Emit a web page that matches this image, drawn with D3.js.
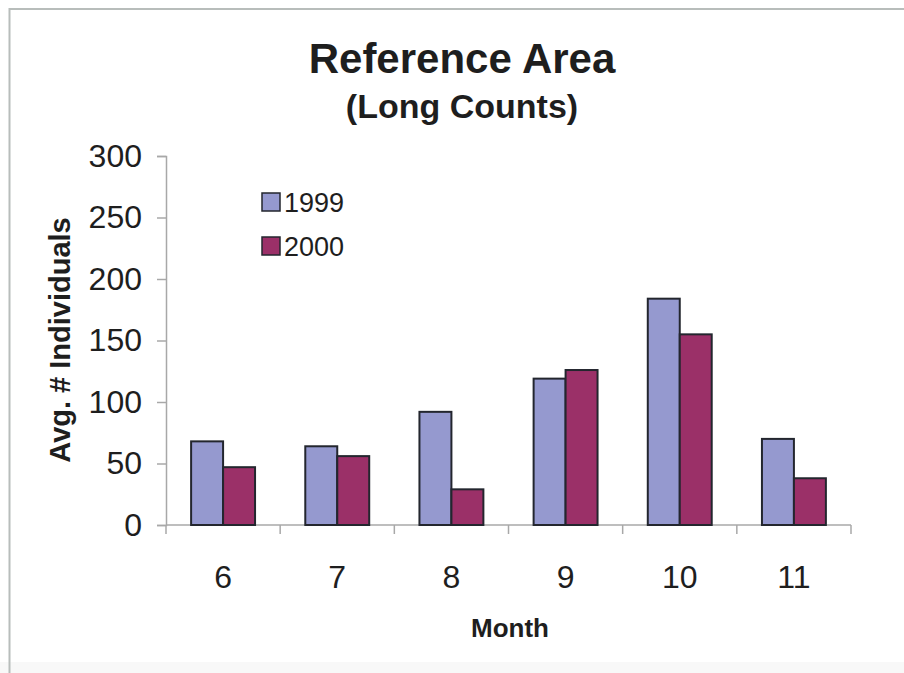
<!DOCTYPE html>
<html>
<head>
<meta charset="utf-8">
<script src="https://cdn.jsdelivr.net/npm/d3@7"></script>
<style>
  html, body { margin: 0; padding: 0; background: #ffffff; }
  svg { display: block; }
  text { font-family: "Liberation Sans", Arial, sans-serif; fill: #1e1e1e; }
</style>
</head>
<body>
<svg id="chart" width="904" height="673"></svg>
<script>
const months = ["6", "7", "8", "9", "10", "11"];
const seriesNames = ["1999", "2000"];
const values1999 = [68, 64, 92, 119, 184, 70];
const values2000 = [47, 56, 29, 126, 155, 38];
const yTicks = [0, 50, 100, 150, 200, 250, 300];
const colors = ["#9599cf", "#9b3068"];

const svg = d3.select("#chart");

// frame
svg.append("rect").attr("x", 0).attr("y", 662).attr("width", 904).attr("height", 11).attr("fill", "#f8f8f8");
svg.append("line").attr("x1", 9.5).attr("x2", 904).attr("y1", 9).attr("y2", 9)
  .attr("stroke", "#b8bdbb").attr("stroke-width", 2);
svg.append("line").attr("x1", 9.5).attr("x2", 9.5).attr("y1", 8).attr("y2", 673)
  .attr("stroke", "#b8bdbb").attr("stroke-width", 2);

const plot = { left: 166, right: 851, top: 156, bottom: 525 };

const x = d3.scaleBand().domain(months).range([plot.left, plot.right]).padding(0);
const bw = x.bandwidth();
const x1 = d3.scaleBand().domain(seriesNames).range([bw * 0.22, bw * 0.78]).padding(0);
const y = d3.scaleLinear().domain([0, 300]).range([plot.bottom, plot.top]);

const data = months.map((m, i) => ({ month: m, vals: [values1999[i], values2000[i]] }));

// titles
svg.append("text").attr("x", 462).attr("y", 73).attr("text-anchor", "middle")
  .attr("font-size", 42).attr("font-weight", "bold").text("Reference Area");
svg.append("text").attr("x", 462).attr("y", 118).attr("text-anchor", "middle")
  .attr("font-size", 34).attr("font-weight", "bold").text("(Long Counts)");

// y axis
const yAxis = svg.append("g").attr("transform", `translate(${plot.left},0)`)
  .call(d3.axisLeft(y).tickValues(yTicks).tickSize(9).tickPadding(15));
yAxis.select(".domain").attr("stroke", "#a8a8a8").attr("stroke-width", 1.5);
yAxis.selectAll(".tick line").attr("stroke", "#a8a8a8").attr("stroke-width", 1.5);
yAxis.selectAll(".tick text").attr("font-size", 32).attr("fill", "#1e1e1e")
  .attr("font-family", "Liberation Sans, Arial, sans-serif");

// x axis line and boundary ticks
const xg = svg.append("g");
xg.append("line").attr("x1", plot.left).attr("x2", plot.right)
  .attr("y1", plot.bottom).attr("y2", plot.bottom)
  .attr("stroke", "#a8a8a8").attr("stroke-width", 1.5);
const bounds = months.map(m => x(m)).concat([x(months[months.length - 1]) + bw]);
xg.selectAll("line.b").data(bounds).enter().append("line").attr("class", "b")
  .attr("x1", d => d).attr("x2", d => d)
  .attr("y1", plot.bottom).attr("y2", plot.bottom + 9)
  .attr("stroke", "#a8a8a8").attr("stroke-width", 1.5);

const xAxis = svg.append("g").attr("transform", `translate(0,${plot.bottom})`)
  .call(d3.axisBottom(x).tickSize(0).tickPadding(40));
xAxis.select(".domain").remove();
xAxis.selectAll(".tick text").attr("font-size", 32).attr("fill", "#1e1e1e")
  .attr("font-family", "Liberation Sans, Arial, sans-serif");

// bars
const groups = svg.append("g").selectAll("g").data(data).enter().append("g")
  .attr("transform", d => `translate(${x(d.month)},0)`);
groups.selectAll("rect").data(d => d.vals.map((v, i) => ({ key: seriesNames[i], v, i })))
  .enter().append("rect")
  .attr("x", d => x1(d.key))
  .attr("y", d => y(d.v))
  .attr("width", x1.bandwidth())
  .attr("height", d => y(0) - y(d.v))
  .attr("fill", d => colors[d.i])
  .attr("stroke", "#23262e").attr("stroke-width", 2);

// axis titles
svg.append("text").attr("transform", `translate(70,340) rotate(-90)`)
  .attr("text-anchor", "middle").attr("font-size", 29).attr("font-weight", "bold")
  .text("Avg. # Individuals");
svg.append("text").attr("x", 510).attr("y", 637).attr("text-anchor", "middle")
  .attr("font-size", 26).attr("font-weight", "bold").text("Month");

// legend
const legend = svg.append("g").selectAll("g").data(seriesNames).enter().append("g")
  .attr("transform", (d, i) => `translate(262,${193 + i * 44})`);
legend.append("rect").attr("width", 18).attr("height", 18)
  .attr("fill", (d, i) => colors[i]).attr("stroke", "#23262e").attr("stroke-width", 1.5);
legend.append("text").attr("x", 22).attr("y", 9).attr("dy", "0.36em")
  .attr("font-size", 27).text(d => d);
</script>
</body>
</html>
